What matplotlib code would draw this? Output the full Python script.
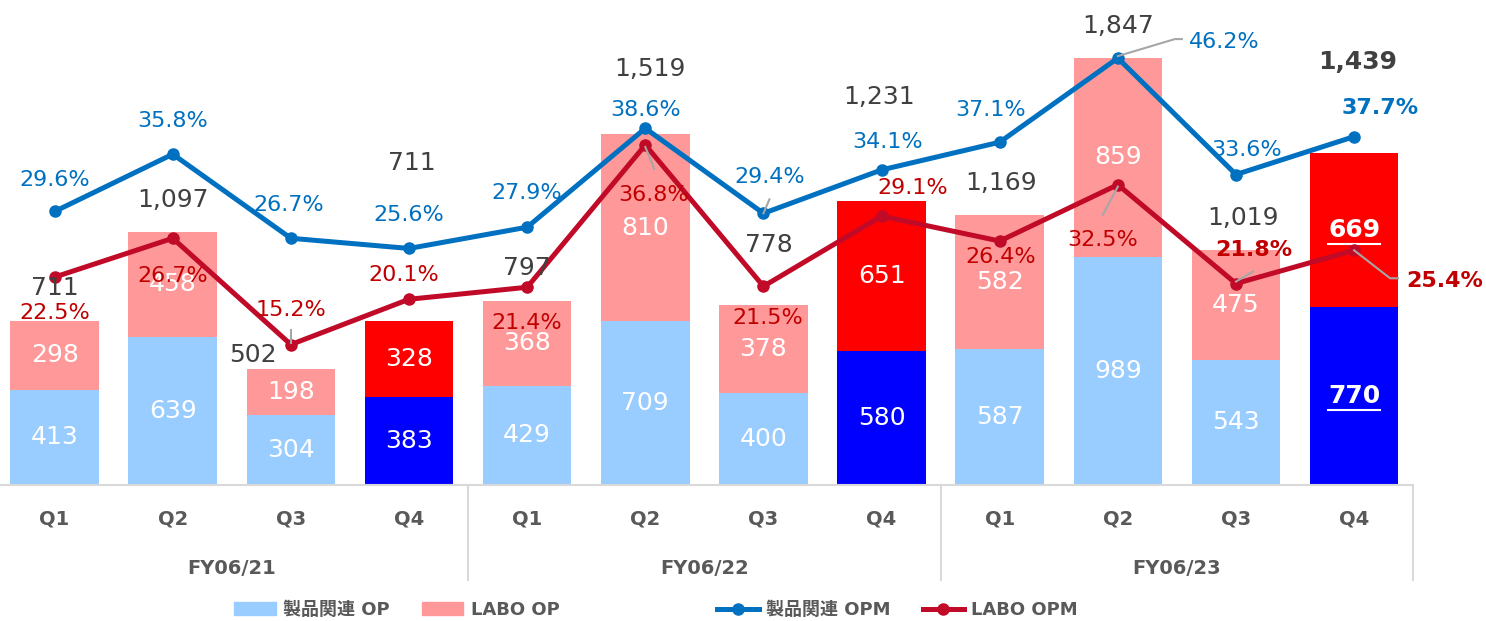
import matplotlib
matplotlib.use("Agg")
import matplotlib.pyplot as plt
from matplotlib.lines import Line2D
from matplotlib.patches import Patch
from matplotlib.transforms import IdentityTransform, offset_copy

plt.rcParams['font.family'] = ['DejaVu Sans', 'Noto Sans CJK JP']

# data
quarters = ['Q1', 'Q2', 'Q3', 'Q4'] * 3
years = ['FY06/21', 'FY06/22', 'FY06/23']
product_op = [413, 639, 304, 383, 429, 709, 400, 580, 587, 989, 543, 770]
labo_op = [298, 458, 198, 328, 368, 810, 378, 651, 582, 859, 475, 669]
total_labels = ['711', '1,097', '502', '711', '797', '1,519', '778', '1,231',
                '1,169', '1,847', '1,019', '1,439']
product_opm = [29.6, 35.8, 26.7, 25.6, 27.9, 38.6, 29.4, 34.1, 37.1, 46.2, 33.6, 37.7]
labo_opm = [22.5, 26.7, 15.2, 20.1, 21.4, 36.8, 21.5, 29.1, 26.4, 32.5, 21.8, 25.4]

# style
c_prod, c_prod_hi = '#99CCFF', '#0000FF'
c_labo, c_labo_hi = '#FF9999', '#FF0000'
c_blue, c_red = '#0070C0', '#C00A28'
c_blue_txt, c_red_txt = '#0070C0', '#C00000'
c_total = '#404040'
c_axis = '#595959'
c_grid = '#D9D9D9'
highlight = [3, 7, 11]

# label offsets in pixels (dx, dy) from the point / bar top
total_off = [(0, 33), (0, 32), (-38, 14), (3, 158), (0, 33), (5, 65), (5, 60),
             (-3, 104), (1, 32), (0, 32), (7, 32), (4, 91)]
blue_off = [(0, 31), (0, 33), (-2, 33), (0, 33), (0, 34), (0, 18), (6, 36),
            (6, 28), (-9, 32), (106, 16), (11, 25), (26, 29)]
red_off = [(0, -36), (0, -38), (0, 35), (-5, 24), (0, -36), (8, -50), (4, -32),
           (31, 28), (1, -16), (-15, -55), (18, 34), (91, -31)]

fig = plt.figure(figsize=(14.86, 6.21), dpi=100)
ax = fig.add_axes([-0.003, 0.219, 0.954, 0.744])
x = list(range(len(quarters)))

pcol = [c_prod_hi if i in highlight else c_prod for i in x]
lcol = [c_labo_hi if i in highlight else c_labo for i in x]
ax.bar(x, product_op, 0.75, color=pcol, zorder=2)
ax.bar(x, labo_op, 0.75, bottom=product_op, color=lcol, zorder=2)
ax.set_xlim(-0.5, 11.5)
ax.set_ylim(0, 2000)
ax.set_yticks([])
ax.set_xticks([])
for s in ['top', 'left', 'right']:
    ax.spines[s].set_visible(False)
ax.spines['bottom'].set_color(c_grid)
ax.spines['bottom'].set_linewidth(1.5)

ax2 = ax.twinx()
ax2.set_ylim(0, 50)
ax2.set_yticks([])
for s in ax2.spines.values():
    s.set_visible(False)
ax2.plot(x, product_opm, color=c_blue, lw=3.6, marker='o', ms=8, zorder=3)
ax2.plot(x, labo_opm, color=c_red, lw=3.6, marker='o', ms=8, zorder=3)

# category labels and separators
xt = ax.get_xaxis_transform()
for i, q in enumerate(quarters):
    ax.text(i, -0.074, q, transform=xt, ha='center', va='center',
            fontsize=14, fontweight='bold', color=c_axis)
for j, yr in enumerate(years):
    ax.text(j * 4 + 1.5, -0.18, yr, transform=xt, ha='center', va='center',
            fontsize=14, fontweight='bold', color=c_axis)
for sx in [3.5, 7.5, 11.5]:
    ax.plot([sx, sx], [0, -0.206], transform=xt, clip_on=False, color=c_grid, lw=1.5)

# segment labels
for i in x:
    b = i == 11
    ax2.annotate(str(product_op[i]), (i, product_op[i] / 2 / 40), ha='center', va='center',
                 fontsize=18, color='white', fontweight='bold' if b else 'normal', zorder=4)
    ax2.annotate(str(labo_op[i]), (i, (product_op[i] + labo_op[i] / 2) / 40), ha='center',
                 va='center', fontsize=18, color='white',
                 fontweight='bold' if b else 'normal', zorder=4)

# underline the latest quarter numbers
ul = offset_copy(ax.transData, fig=fig, y=-14, units='dots')
for yv in [product_op[11] / 2, product_op[11] + labo_op[11] / 2]:
    ax.plot([11 - 0.22, 11 + 0.22], [yv, yv], transform=ul, color='white', lw=1.5, zorder=5)

# totals
for i in x:
    top = (product_op[i] + labo_op[i]) / 40
    ax2.annotate(total_labels[i], (i, top), xytext=total_off[i], textcoords='offset pixels',
                 ha='center', va='center', fontsize=18, color=c_total,
                 fontweight='bold' if i == 11 else 'normal', zorder=4)

# margins
for i in x:
    ax2.annotate(f'{product_opm[i]:.1f}%', (i, product_opm[i]), xytext=blue_off[i],
                 textcoords='offset pixels', ha='center', va='center', fontsize=16,
                 color=c_blue_txt, fontweight='bold' if i == 11 else 'normal', zorder=4)
    ax2.annotate(f'{labo_opm[i]:.1f}%', (i, labo_opm[i]), xytext=red_off[i],
                 textcoords='offset pixels', ha='center', va='center', fontsize=16,
                 color=c_red_txt, fontweight='bold' if i in (10, 11) else 'normal', zorder=4)


def leader(i, yv, offs):
    bx, by = ax2.transData.transform((i, yv))
    xs = [bx + dx for dx, dy in offs]
    ys = [by + dy for dx, dy in offs]
    fig.add_artist(Line2D(xs, ys, transform=IdentityTransform(), color='#A6A6A6', lw=1.5))


leader(9, product_opm[9], [(0, 2), (57, 19), (64, 19)])
leader(9, labo_opm[9], [(0, -2), (-15, -30)])
leader(11, labo_opm[11], [(0, 0), (36, -28), (44, -28)])
leader(5, labo_opm[5], [(0, -2), (9, -24)])
leader(6, product_opm[6], [(0, 0), (6, 14)])
leader(2, labo_opm[2], [(0, 2), (0, 15)])
leader(10, labo_opm[10], [(0, 2), (17, 12)])

# legends
h1 = [Patch(color=c_prod, label='製品関連 OP'), Patch(color=c_labo, label='LABO OP')]
h2 = [Line2D([], [], color=c_blue, lw=3.6, marker='o', ms=8, label='製品関連 OPM'),
      Line2D([], [], color=c_red, lw=3.6, marker='o', ms=8, label='LABO OPM')]
lp = dict(loc='center', ncol=2, frameon=False, handletextpad=0.4, columnspacing=1.8,
          handlelength=2.3, prop={'size': 13, 'weight': 'bold'}, labelcolor=c_axis)
fig.legend(handles=h1, bbox_to_anchor=(0.267, 0.018), **lp)
fig.legend(handles=h2, bbox_to_anchor=(0.604, 0.018), **lp)

fig.savefig('out.png', dpi=100)
